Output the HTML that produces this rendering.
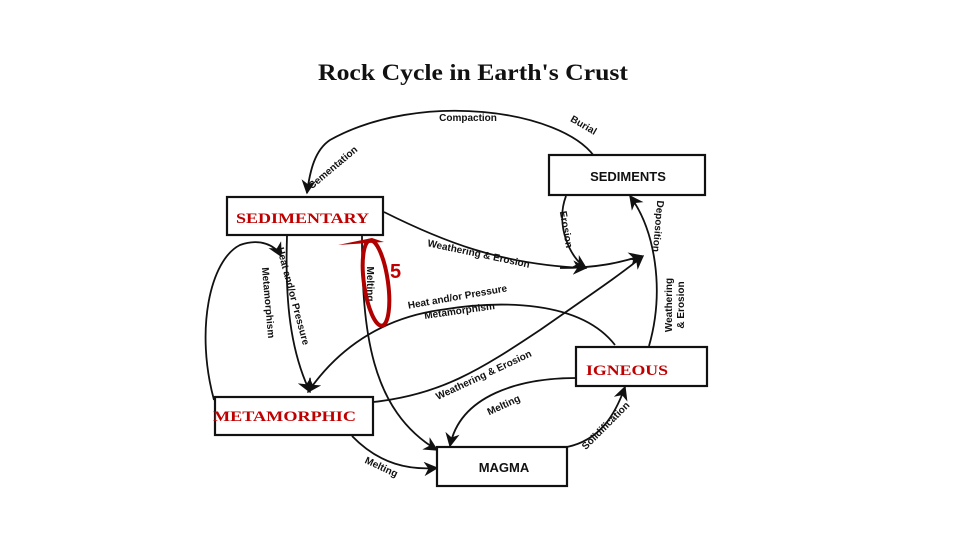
<!DOCTYPE html>
<html><head><meta charset="utf-8"><style>
html,body{margin:0;padding:0;background:#fff;width:960px;height:540px;overflow:hidden}
svg{display:block}
.l{font-family:"Liberation Sans",sans-serif;font-size:10px;fill:#111;font-weight:bold}
</style></head><body>
<svg width="960" height="540" viewBox="0 0 960 540" xmlns="http://www.w3.org/2000/svg">
<defs>
<marker id="a" viewBox="0 0 10 10" refX="9" refY="5" markerWidth="8" markerHeight="8" orient="auto-start-reverse">
<path d="M0,0 L10,5 L0,10 L3,5 z" fill="#111"/></marker>
</defs>
<text x="473" y="80" text-anchor="middle" font-family="Liberation Serif,serif" font-weight="bold" font-size="23" fill="#111" textLength="310" lengthAdjust="spacingAndGlyphs">Rock Cycle in Earth's Crust</text>
<g fill="none" stroke="#111" stroke-width="1.8">
<path d="M594,156 C560,110 420,90 330,140 C315,150 310,170 307,193" marker-end="url(#a)"/>
<path d="M384,212 C440,240 500,265 586,268" marker-end="url(#a)"/>
<path d="M560,268 C600,268 620,262 642,256" marker-end="url(#a)"/>
<path d="M566,196 C555,225 570,258 586,268" marker-end="url(#a)"/>
<path d="M649,346 C665,290 655,230 630,196" marker-end="url(#a)"/>
<path d="M287,236 C285,300 290,350 310,392" marker-end="url(#a)"/>
<path d="M362,236 C362,330 370,410 437,450" marker-end="url(#a)"/>
<path d="M615,345 C580,300 500,300 440,310 C370,320 330,360 308,392" marker-end="url(#a)"/>
<path d="M373,402 C440,395 480,370 540,330 C590,295 620,275 643,256" marker-end="url(#a)"/>
<path d="M214,400 C195,330 210,260 240,245 C260,238 275,245 281,256" marker-end="url(#a)"/>
<path d="M352,436 C380,465 410,470 437,468" marker-end="url(#a)"/>
<path d="M576,378 C520,378 460,395 450,446" marker-end="url(#a)"/>
<path d="M567,447 C600,440 615,415 625,387" marker-end="url(#a)"/>
</g>
<g fill="#fff" stroke="#111" stroke-width="2.2">
<rect x="549" y="155" width="156" height="40"/>
<rect x="227" y="197" width="156" height="38"/>
<rect x="576" y="347" width="131" height="39"/>
<rect x="215" y="397" width="158" height="38"/>
<rect x="437" y="447" width="130" height="39"/>
</g>
<text x="628" y="181" text-anchor="middle" font-family="Liberation Sans,sans-serif" font-weight="bold" font-size="13" fill="#111">SEDIMENTS</text>
<text x="504" y="472" text-anchor="middle" font-family="Liberation Sans,sans-serif" font-weight="bold" font-size="13" fill="#111">MAGMA</text>
<text x="236" y="223" font-family="Liberation Serif,serif" font-weight="bold" font-size="15" fill="#c00000" textLength="133" lengthAdjust="spacingAndGlyphs">SEDIMENTARY</text>
<text x="586" y="375" font-family="Liberation Serif,serif" font-weight="bold" font-size="15" fill="#c00000" textLength="82" lengthAdjust="spacingAndGlyphs">IGNEOUS</text>
<text x="213" y="421" font-family="Liberation Serif,serif" font-weight="bold" font-size="15" fill="#c00000" textLength="143" lengthAdjust="spacingAndGlyphs">METAMORPHIC</text>
<text class="l" x="468" y="121" text-anchor="middle">Compaction</text>
<text class="l" transform="translate(335,170) rotate(-40)" text-anchor="middle">Cementation</text>
<text class="l" transform="translate(582,128) rotate(30)" text-anchor="middle">Burial</text>
<text class="l" transform="translate(478,257) rotate(12)" text-anchor="middle">Weathering &amp; Erosion</text>
<text class="l" transform="translate(563,230) rotate(80)" text-anchor="middle">Erosion</text>
<text class="l" transform="translate(655,226) rotate(95)" text-anchor="middle">Deposition</text>
<text class="l" transform="translate(672,305) rotate(-90)" text-anchor="middle">Weathering</text>
<text class="l" transform="translate(684,305) rotate(-90)" text-anchor="middle">&amp; Erosion</text>
<text class="l" transform="translate(290,297) rotate(75)" text-anchor="middle">Heat and/or Pressure</text>
<text class="l" transform="translate(265,303) rotate(85)" text-anchor="middle">Metamorphism</text>
<text class="l" transform="translate(367,284) rotate(90)" text-anchor="middle">Melting</text>
<text class="l" transform="translate(458,300) rotate(-10)" text-anchor="middle">Heat and/or Pressure</text>
<text class="l" transform="translate(460,314) rotate(-8)" text-anchor="middle">Metamorphism</text>
<text class="l" transform="translate(485,378) rotate(-25)" text-anchor="middle">Weathering &amp; Erosion</text>
<text class="l" transform="translate(505,408) rotate(-25)" text-anchor="middle">Melting</text>
<text class="l" transform="translate(380,470) rotate(25)" text-anchor="middle">Melting</text>
<text class="l" transform="translate(608,428) rotate(-45)" text-anchor="middle">Solidification</text>
<ellipse cx="376" cy="283" rx="12" ry="43" transform="rotate(-8 376 283)" fill="none" stroke="#b00000" stroke-width="4"/>
<path d="M338,245 L384,242 L372,238 Z" fill="#b00000"/>
<text x="390" y="278" font-family="Liberation Sans,sans-serif" font-weight="bold" font-size="20" fill="#c00000">5</text>
</svg>
</body></html>
